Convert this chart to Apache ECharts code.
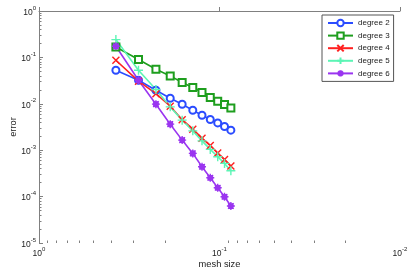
<!DOCTYPE html>
<html>
<head>
<meta charset="utf-8">
<script src="https://cdn.jsdelivr.net/npm/echarts@6/dist/echarts.min.js"></script>
<style>html,body{margin:0;padding:0;background:#fff}#c{width:415px;height:270px}</style>
</head>
<body>
<div id="c"></div>
<script>
const meshSize = [0.375, 0.281, 0.225, 0.1875, 0.161, 0.1406, 0.125, 0.1125, 0.1023, 0.0938, 0.0865];
const degree2 = [0.0529, 0.0322, 0.0196, 0.0132, 0.0098, 0.00728, 0.00568, 0.0046, 0.00388, 0.00325, 0.0027];
const degree3 = [0.168, 0.090, 0.0556, 0.0399, 0.0288, 0.0225, 0.0176, 0.0137, 0.0114, 0.0097, 0.0081];
const degree4 = [0.0869, 0.0307, 0.01652, 0.00889, 0.00455, 0.00284, 0.00182, 0.00126, 0.000866, 0.000627, 0.000454];
const degree5 = [0.242, 0.0529, 0.0203, 0.00859, 0.00444, 0.00261, 0.00159, 0.00104, 0.000721, 0.000519, 0.00036];
const degree6 = [0.174, 0.0322, 0.00982, 0.00364, 0.00165, 0.000853, 0.000439, 0.000254, 0.000155, 0.0000993, 0.0000625];
const seriesNames = ['degree 2', 'degree 3', 'degree 4', 'degree 5', 'degree 6'];
const xDecades = [-2, -1, 0];
const yDecades = [-5, -4, -3, -2, -1, 0];

const colors = ['#2b4cff', '#1e9e1e', '#ff1f1f', '#5cf5b5', '#9a35f0'];
const symbols = [
  'emptyCircle',
  'emptyRect',
  'path://M0,0L10,10M10,0L0,10',
  'path://M5,0L5,10M0,5L10,5',
  'path://M2,5a3,3 0 1,0 6,0a3,3 0 1,0 -6,0M5,0L5,10M0,5L10,5M1.5,1.5L8.5,8.5M8.5,1.5L1.5,8.5'
];
const sizes = [7, 7, 7, 9, 8];
const allData = [degree2, degree3, degree4, degree5, degree6];

function minorTicks(decades) {
  const out = [];
  for (let d = decades[0]; d < decades[decades.length - 1]; d++) {
    for (let k = 2; k <= 9; k++) out.push(d + Math.log10(k));
  }
  return out;
}

const rich = {
  b: {fontSize: 8.5, color: '#222', fontFamily: 'Liberation Sans', lineHeight: 12, verticalAlign: 'bottom'},
  s: {fontSize: 6, color: '#222', fontFamily: 'Liberation Sans', lineHeight: 12, verticalAlign: 'top'}
};
const fmt = v => '{b|10}{s|' + Math.round(Math.log10(v)) + '}';
const axisGrey = '#808080';

const chart = echarts.init(document.getElementById('c'), null, {renderer: 'canvas'});
chart.setOption({
  animation: false,
  backgroundColor: '#fff',
  grid: {left: 39, right: 15, top: 11, bottom: 27, containLabel: false, outerBoundsMode: 'none'},
  legend: {
    orient: 'vertical', left: 322, top: 15,
    data: seriesNames,
    borderColor: '#555', borderWidth: 1, padding: [3, 4, 3, 5],
    itemWidth: 25, itemHeight: 8, itemGap: 2.6,
    textStyle: {fontSize: 8, color: '#222', fontFamily: 'Liberation Sans', lineHeight: 10}
  },
  xAxis: [{
    type: 'log', logBase: 10, min: 0.01, max: 1, inverse: true,
    name: 'mesh size', nameLocation: 'middle', nameGap: 17, nameMoveOverlap: false,
    nameTextStyle: {fontSize: 9.3, color: '#222', fontFamily: 'Liberation Sans'},
    axisLine: {lineStyle: {color: axisGrey, width: 1}},
    axisTick: {inside: true, length: 4, lineStyle: {color: axisGrey}},
    axisLabel: {formatter: fmt, rich: rich, margin: 3},
    splitLine: {show: false}
  }, {
    type: 'value', min: xDecades[0], max: xDecades[xDecades.length - 1], inverse: true,
    position: 'bottom', gridIndex: 0,
    axisLine: {show: false},
    axisTick: {show: true, inside: true, length: 2.5, customValues: minorTicks(xDecades), lineStyle: {color: axisGrey}},
    axisLabel: {show: false},
    splitLine: {show: false}
  }],
  yAxis: [{
    type: 'log', logBase: 10, min: 0.00001, max: 1,
    name: 'error', nameLocation: 'middle', nameGap: 21, nameMoveOverlap: false,
    nameTextStyle: {fontSize: 9.3, color: '#222', fontFamily: 'Liberation Sans'},
    axisLine: {lineStyle: {color: axisGrey, width: 1}},
    axisTick: {inside: true, length: 4, lineStyle: {color: axisGrey}},
    axisLabel: {formatter: fmt, rich: rich, margin: 3},
    splitLine: {show: false}
  }, {
    type: 'value', min: yDecades[0], max: yDecades[yDecades.length - 1],
    position: 'left', gridIndex: 0,
    axisLine: {show: false},
    axisTick: {show: true, inside: true, length: 2.5, customValues: minorTicks(yDecades), lineStyle: {color: axisGrey}},
    axisLabel: {show: false},
    splitLine: {show: false}
  }],
  series: allData.map((arr, i) => ({
    name: seriesNames[i],
    type: 'line',
    xAxisIndex: 0, yAxisIndex: 0,
    data: meshSize.map((h, j) => [h, arr[j]]),
    symbol: symbols[i],
    symbolSize: sizes[i],
    showAllSymbol: true,
    lineStyle: {color: colors[i], width: 1.6},
    itemStyle: {color: colors[i], borderColor: colors[i], borderWidth: 1.4},
    emphasis: {disabled: true}
  }))
});
</script>
</body>
</html>
